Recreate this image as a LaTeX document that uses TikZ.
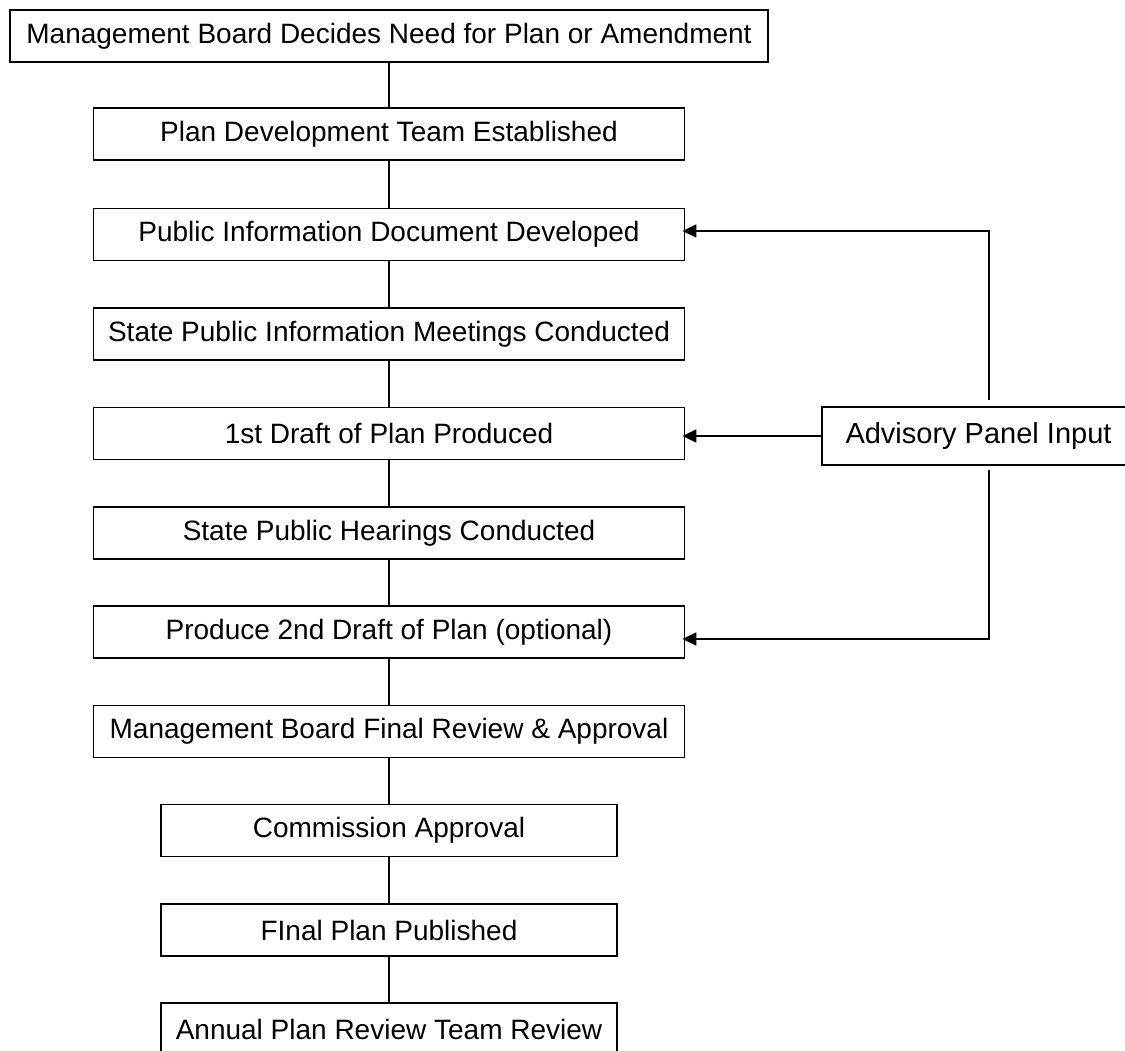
\documentclass[tikz,border=0pt]{standalone}
\usepackage{fontspec}
\setmainfont{Liberation Sans}
\usetikzlibrary{arrows.meta}
\begin{document}
\begin{tikzpicture}[x=1pt,y=-1pt,
  box/.style={draw,line width=1.8pt,inner sep=0pt,minimum height=52pt,font=\fontsize{28}{30}\selectfont},
  wide/.style={box,minimum width=591pt},
  narrow/.style={box,minimum width=456pt},
  link/.style={line width=1.8pt},
  arr/.style={line width=1.8pt,-{Triangle[length=14pt,width=13pt]}}]
\useasboundingbox (0,0) rectangle (1125,1051);
\node[box,minimum width=758pt] (b1) at (389,36) {Management Board Decides Need for Plan or Amendment};
\node[wide] (b2) at (389,134) {Plan Development Team Established};
\node[wide] (b3) at (389,234.5) {Public Information Document Developed};
\node[wide] (b4) at (389,334) {State Public Information Meetings Conducted};
\node[wide] (b5) at (389,433.5) {1st Draft of Plan Produced};
\node[wide] (b6) at (389,533) {State Public Hearings Conducted};
\node[wide] (b7) at (389,632) {Produce 2nd Draft of Plan (optional)};
\node[wide] (b8) at (389,731.5) {Management Board Final Review \& Approval};
\node[narrow] (b9) at (389,830.5) {Commission Approval};
\node[narrow] (b10) at (389,930) {FInal Plan Published};
\node[narrow] (b11) at (389,1029) {Annual Plan Review Team Review};
\node[box,minimum width=313pt,minimum height=58pt,font=\fontsize{29}{31}\selectfont] (adv) at (978.5,436) {Advisory Panel Input};
\draw[link] (b1) -- (b2);
\draw[link] (b2) -- (b3);
\draw[link] (b3) -- (b4);
\draw[link] (b4) -- (b5);
\draw[link] (b5) -- (b6);
\draw[link] (b6) -- (b7);
\draw[link] (b7) -- (b8);
\draw[link] (b8) -- (b9);
\draw[link] (b9) -- (b10);
\draw[link] (b10) -- (b11);
\coordinate (up) at (989,400);
\coordinate (down) at (989,470);
\draw[arr] (up) |- ([yshift=3.5pt,xshift=-3pt]b3.east);
\draw[arr] (adv.west) -- ([xshift=-3pt]adv.west -| b5.east);
\draw[arr] (down) |- ([yshift=-7pt,xshift=-3pt]b7.east);
\end{tikzpicture}
\end{document}
